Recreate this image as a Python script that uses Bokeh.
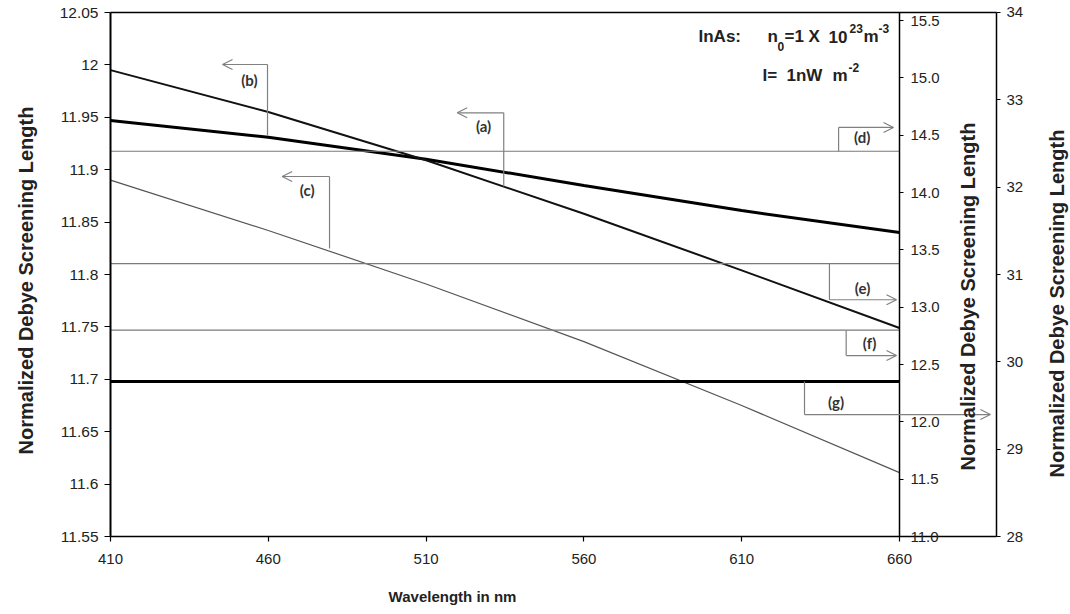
import math
from bokeh.plotting import figure
from bokeh.models import (Range1d, LinearAxis, FixedTicker, Label, Arrow, OpenHead,
                          CustomJSTickFormatter)
from bokeh.core.properties import value
from bokeh.embed import file_html
from bokeh.resources import INLINE

# ---------------- data ----------------
wavelength = [410, 460, 510, 560, 610, 660]
curve_a = [11.947, 11.931, 11.910, 11.885, 11.861, 11.840]   # left axis
curve_b = [11.995, 11.955, 11.909, 11.858, 11.804, 11.749]   # left axis
curve_c = [11.890, 11.842, 11.791, 11.736, 11.675, 11.611]   # left axis
level_d = 14.36    # first right axis
level_e = 13.38    # first right axis
level_f = 12.80    # first right axis
level_g = 29.775   # second right axis

x_ticks = [410, 460, 510, 560, 610, 660]
left_ticks = [11.55, 11.6, 11.65, 11.7, 11.75, 11.8, 11.85, 11.9, 11.95, 12.0, 12.05]
left_tick_labels = ["11.55", "11.6", "11.65", "11.7", "11.75", "11.8", "11.85", "11.9", "11.95", "12", "12.05"]
r1_ticks = [11.0, 11.5, 12.0, 12.5, 13.0, 13.5, 14.0, 14.5, 15.0, 15.5]
r1_tick_labels = ["11.0", "11.5", "12.0", "12.5", "13.0", "13.5", "14.0", "14.5", "15.0", "15.5"]
r2_ticks = [28, 29, 30, 31, 32, 33, 34]
r2_tick_labels = ["28", "29", "30", "31", "32", "33", "34"]

x_bounds = (410, 690.74)
left_bounds = (11.55, 12.05)
r1_bounds = (11.0, 15.57)
r2_bounds = (28, 34)

curve_names = ["(a)", "(b)", "(c)", "(d)", "(e)", "(f)", "(g)"]
y_title = "Normalized Debye Screening Length"
x_title = "Wavelength in nm"

FONT = "Liberation Sans"
INK = "#222222"

def lookup_fmt(vals, labels):
    return CustomJSTickFormatter(args=dict(tvals=vals, tlabels=labels), code="""
        let best = 0, bd = Infinity;
        for (let i = 0; i < tvals.length; i++) {
            const d = Math.abs(tvals[i] - tick);
            if (d < bd) { bd = d; best = i; }
        }
        return tlabels[best];
    """)

# The frame covers the whole canvas; every axis sits at a fixed location inside it.
p = figure(width=1070, height=614, title=None,
           x_range=Range1d(375.146, 714.18), y_range=Range1d(11.4756, 12.06145),
           output_backend="svg", toolbar_location=None,
           min_border=0, min_border_left=0, min_border_right=0, min_border_top=0, min_border_bottom=0)
p.extra_y_ranges = {"r1": Range1d(10.3198, 15.6747), "r2": Range1d(27.1069, 34.1374)}
p.grid.visible = False
p.outline_line_color = None
p.background_fill_color = "white"
p.border_fill_color = "white"

def style_axis(ax, size="15px"):
    ax.major_label_text_font = FONT
    ax.major_label_text_font_size = size
    ax.major_label_text_color = INK
    ax.axis_line_color = "black"
    ax.axis_line_width = 1.5
    ax.major_tick_line_color = "black"
    ax.major_tick_line_width = 1.2
    ax.major_tick_out = 5
    ax.major_tick_in = 0
    ax.minor_tick_line_color = None

# bottom x axis
xax = p.xaxis[0]
xax.fixed_location = left_bounds[0]
xax.bounds = x_bounds
xax.ticker = FixedTicker(ticks=x_ticks)
style_axis(xax)
xax.major_label_standoff = 12

# top border line
top = LinearAxis(fixed_location=left_bounds[1], bounds=x_bounds, ticker=FixedTicker(ticks=[]))
style_axis(top)
top.major_tick_out = 0
p.add_layout(top, "above")

# left axis
yax = p.yaxis[0]
yax.fixed_location = x_bounds[0]
yax.bounds = left_bounds
yax.ticker = FixedTicker(ticks=left_ticks)
yax.formatter = lookup_fmt(left_ticks, left_tick_labels)
style_axis(yax, "15.5px")
yax.axis_line_width = 2
yax.major_tick_out = 6
yax.major_label_standoff = 6

# first right axis (at 660 nm)
ax1 = LinearAxis(y_range_name="r1", fixed_location=660, bounds=r1_bounds,
                 ticker=FixedTicker(ticks=r1_ticks), formatter=lookup_fmt(r1_ticks, r1_tick_labels))
style_axis(ax1)
ax1.major_tick_out = 4
ax1.major_label_standoff = 7
p.add_layout(ax1, "right")

# second right axis (outer edge)
ax2 = LinearAxis(y_range_name="r2", fixed_location=x_bounds[1], bounds=r2_bounds,
                 ticker=FixedTicker(ticks=r2_ticks), formatter=lookup_fmt(r2_ticks, r2_tick_labels))
style_axis(ax2)
ax2.major_tick_out = 4
ax2.major_label_standoff = 6
p.add_layout(ax2, "right")

# ---------------- curves ----------------
p.line(wavelength, curve_a, line_color="black", line_width=3)
p.line(wavelength, curve_b, line_color="#111111", line_width=2)
p.line(wavelength, curve_c, line_color="#555555", line_width=1.2)

x_span = [wavelength[0], wavelength[-1]]
p.line(x_span, [level_d, level_d], y_range_name="r1", line_color="#7a7a7a", line_width=1.2)
p.line(x_span, [level_e, level_e], y_range_name="r1", line_color="#7a7a7a", line_width=1.2)
p.line(x_span, [level_f, level_f], y_range_name="r1", line_color="#7a7a7a", line_width=1.2)
p.line(x_span, [level_g, level_g], y_range_name="r2", line_color="black", line_width=3)

# ---------------- call-out brackets (left-axis coordinates) ----------------
BR = "#808080"
legs_x  = [534.6, 459.75, 479.4, 640.7, 637.8, 643.1, 629.9]
legs_y0 = [11.9543, 12.0004, 11.8935, 11.9403, 11.8105, 11.7466, 11.6979]
legs_y1 = [11.884, 11.9326, 11.8248, 11.9174, 11.7759, 11.7227, 11.6664]
p.segment(x0=legs_x, y0=legs_y0, x1=legs_x, y1=legs_y1, line_color=BR, line_width=1.2)

arrow_y = [11.9543, 12.0004, 11.8935, 11.9403, 11.7759, 11.7227, 11.6664]
arrow_tip = [519.85, 445.5, 464.4, 658.1, 659.05, 659.05, 688.8]
for xs, yy, xt in zip(legs_x, arrow_y, arrow_tip):
    p.add_layout(Arrow(x_start=xs, y_start=yy, x_end=xt, y_end=yy,
                       line_color=BR, line_width=1.2,
                       end=OpenHead(size=10, line_color=BR, line_width=1.2)))

name_x = [528.2, 454.0, 472.3, 648.2, 648.3, 650.5, 639.9]
name_y = [11.942, 11.986, 11.881, 11.931, 11.7876, 11.7351, 11.6781]
p.text(x=name_x, y=name_y, text=curve_names, text_font=value("Lato"), text_font_style="bold",
       text_font_size="15px", text_color="#333333", text_align="center", text_baseline="middle")

# ---------------- titles & info text (pixel positions on the canvas) ----------------
def py(pixel_y):
    # canvas pixel row -> left-axis value (12.05 at row 12, 1048 px per unit)
    return 12.05 - (pixel_y - 12) / 1048.0

def put(sx, sy, text, size="20px", angle=0.0, align="center", baseline="middle"):
    p.add_layout(Label(x=sx, x_units="screen", y=py(sy), angle=angle, text=text,
                       text_font=FONT, text_font_style="bold", text_font_size=size,
                       text_color=INK, text_align=align, text_baseline=baseline))

put(25, 280, y_title, angle=math.pi / 2)
put(967, 296, y_title, angle=math.pi / 2)
put(1056, 303, y_title, angle=math.pi / 2)
put(452, 596, x_title, size="15px")

# "InAs:  n0 = 1 X 10^23 m^-3"   and   "I=  1nW m^-2"
put(698, 36, "InAs:", size="17px", align="left", baseline="alphabetic")
put(767, 36, "n", size="17px", align="left", baseline="alphabetic")
put(777, 46, "0", size="12px", align="left", baseline="alphabetic")
put(784, 36, "=1 X", size="17px", align="left", baseline="alphabetic")
put(828, 36, "10", size="17px", align="left", baseline="alphabetic")
put(849, 28, "23", size="12px", align="left", baseline="alphabetic")
put(863, 36, "m", size="17px", align="left", baseline="alphabetic")
put(878, 28, "-3", size="12px", align="left", baseline="alphabetic")
put(762, 75, "I=", size="17px", align="left", baseline="alphabetic")
put(786, 75, "1nW", size="17px", align="left", baseline="alphabetic")
put(832, 75, "m", size="17px", align="left", baseline="alphabetic")
put(848, 67, "-2", size="12px", align="left", baseline="alphabetic")

open("out.html", "w").write(file_html(p, INLINE))
